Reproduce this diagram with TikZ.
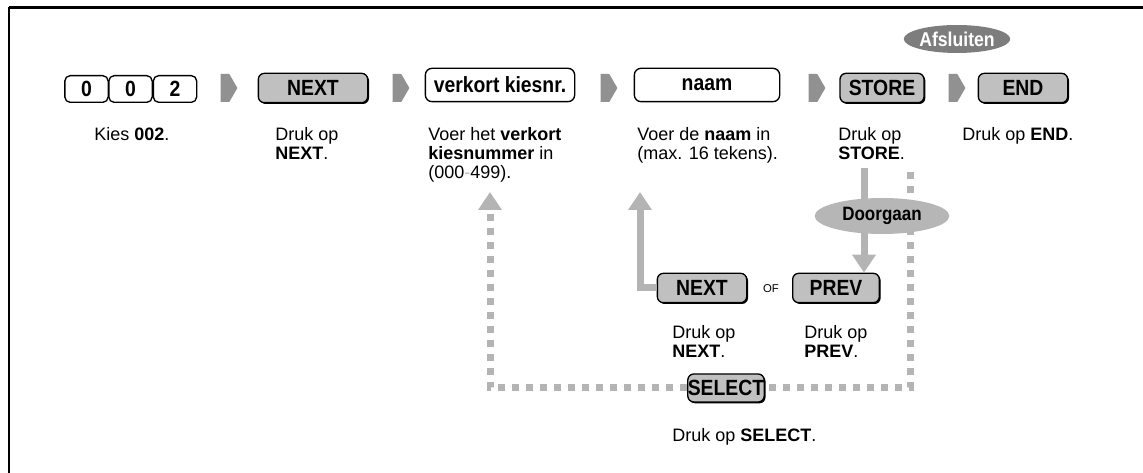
\documentclass[tikz,border=0pt]{standalone}
\usepackage{fontspec}
\setmainfont{Liberation Sans}
\newfontfamily\keyfont[FakeStretch=0.88]{Liberation Sans}
\usetikzlibrary{shapes.geometric,shapes.symbols,arrows.meta,shadows}

\definecolor{keygray}{RGB}{192,192,192}
\definecolor{flowgray}{RGB}{180,180,180}
\definecolor{stepgray}{RGB}{145,145,145}
\definecolor{exitgray}{RGB}{125,125,125}
\definecolor{contgray}{RGB}{182,182,182}

\tikzset{
	hardkey/.style={draw, line width=1pt, rounded corners=4.5pt, fill=keygray, minimum height=22pt, inner sep=0pt,
		font=\keyfont\bfseries\fontsize{16.5}{16.5}\selectfont,
		drop shadow={shadow xshift=1pt, shadow yshift=-1pt, fill=black, opacity=1}},
	inputbox/.style={draw, line width=1pt, rounded corners=5pt, fill=white, minimum height=25pt, inner sep=0pt,
		font=\keyfont\bfseries\fontsize{16.5}{16.5}\selectfont},
	digitkey/.style={inputbox, minimum width=32.5pt, minimum height=20pt, rounded corners=4pt},
	stepmark/.style={signal, signal to=east, signal pointer angle=120, fill=stepgray, inner sep=0pt,
		minimum width=12.5pt, minimum height=21pt},
	lbl/.style={anchor=north west, align=left, inner sep=0pt, font=\fontsize{13.5}{14.5}\selectfont},
	flowline/.style={draw=flowgray, line width=5.25pt},
	flow/.style={flowline, -{Triangle[width=17pt,length=13.5pt]}},
	flowdash/.style={flowline, dash pattern=on 5.25pt off 5.25pt},
}

\begin{document}
\begin{tikzpicture}[x=0.75pt,y=0.75pt,yscale=-1,xscale=1]
	\useasboundingbox (0,0) rectangle (1143,473);
	% frame
	\draw [line width=2.2pt] (9,7.5) -- (1143,7.5);
	\draw [line width=1.5pt] (9,7.5) -- (9,473);
	% top row
	\node [digitkey] (d1) at (86.5,89) {0};
	\node [digitkey] (d2) at (130.5,89) {0};
	\node [digitkey] (d3) at (175,89) {2};
	\node [stepmark] (s1) at (225,88) {};
	\node [hardkey, minimum width=82pt] (next) at (313,88) {NEXT};
	\node [stepmark] (s2) at (397,88) {};
	\node [inputbox, minimum width=112pt] (abbr) at (500,85) {verkort kiesnr.};
	\node [stepmark] (s3) at (605,88) {};
	\node [inputbox, minimum width=109pt] (name) at (707,85) {naam};
	\node [stepmark] (s4) at (813,88) {};
	\node [hardkey, minimum width=63pt] (store) at (882,88) {STORE};
	\node [stepmark] (s5) at (953,88) {};
	\node [hardkey, minimum width=67pt] (end) at (1023,88) {END};
	\node [ellipse, fill=exitgray, text=white, inner sep=0pt, minimum width=68pt, minimum height=21pt,
		font=\keyfont\bfseries\fontsize{15}{15}\selectfont] (exit) at (957,39) {Afsluiten};
	% labels
	\node [lbl] (t1) at (94,127) {Kies \textbf{002}.};
	\node [lbl] (t2) at (275,127) {Druk op\\\textbf{NEXT}.};
	\node [lbl] (t3) at (428,127) {Voer het \textbf{verkort}\\\textbf{kiesnummer} in\\(000{\color{lightgray}-}499).};
	\node [lbl] (t4) at (637,127) {Voer de \textbf{naam} in\\(max. 16 tekens).};
	\node [lbl] (t5) at (838,127) {Druk op\\\textbf{STORE}.};
	\node [lbl] (t6) at (962,127) {Druk op \textbf{END}.};
	% lower part
	\node [hardkey, minimum width=67pt] (next2) at (702,288) {NEXT};
	\node [font=\fontsize{8.5}{8.5}\selectfont] (or) at (771,289) {OF};
	\node [hardkey, minimum width=65pt] (prev) at (836,288) {PREV};
	\node [lbl] (t7) at (672,325) {Druk op\\\textbf{NEXT}.};
	\node [lbl] (t8) at (804,325) {Druk op\\\textbf{PREV}.};
	\node [hardkey, minimum width=56pt, minimum height=21pt] (select) at (726,388) {SELECT};
	\node [lbl] (t9) at (672,428) {Druk op \textbf{SELECT}.};
	\coordinate (namein) at (640,192);
	\coordinate (storeout) at (864,168);
	\coordinate (redo) at (910,172);
	\coordinate (abbrin) at (490,192);
	\draw [flow] (next2.west) -| (namein);
	\draw [flow] (storeout) -- (storeout |- prev.north);
	\draw [flowdash] (redo) |- (select.east);
	\draw [flowdash, -{Triangle[width=17pt,length=13.5pt]}] (select.west) -| (abbrin);
	\node [ellipse, fill=contgray, inner sep=0pt, minimum width=101pt, minimum height=27pt,
		font=\keyfont\bfseries\fontsize{14.5}{14.5}\selectfont] (cont) at (882,216) {Doorgaan};
\end{tikzpicture}
\end{document}
